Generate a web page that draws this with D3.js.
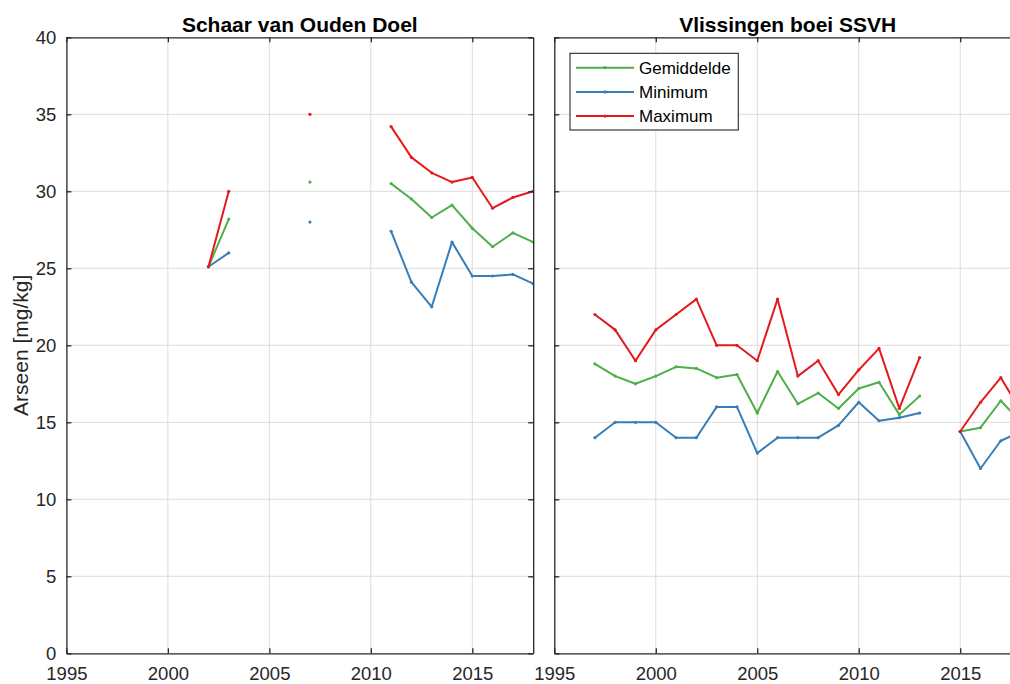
<!DOCTYPE html>
<html>
<head>
<meta charset="utf-8">
<script src="https://cdn.jsdelivr.net/npm/d3@7"></script>
<style>
  html, body { margin: 0; padding: 0; background: #fff; overflow: hidden; }
  svg { display: block; font-family: "Liberation Sans", Arial, Helvetica, sans-serif; }
</style>
</head>
<body>
<svg id="chart" width="1010" height="684"></svg>
<script>
// Arseen in sediment, yearly mean / min / max per station
const seriesNames = ["Gemiddelde", "Minimum", "Maximum"];
const seriesColors = ["#4daf4a", "#377eb8", "#e41a1c"];

// Schaar van Ouden Doel
const yearsOudenDoel = [2002, 2003, 2004, 2005, 2006, 2007, 2008, 2009, 2010,
                        2011, 2012, 2013, 2014, 2015, 2016, 2017, 2018];
const meanOudenDoel = [25.1, 28.2, null, null, null, 30.6, null, null, null,
                       30.5, 29.5, 28.3, 29.1, 27.6, 26.4, 27.3, 26.7];
const minOudenDoel  = [25.1, 26.0, null, null, null, 28.0, null, null, null,
                       27.4, 24.1, 22.5, 26.7, 24.5, 24.5, 24.6, 24.0];
const maxOudenDoel  = [25.1, 30.0, null, null, null, 35.0, null, null, null,
                       34.2, 32.2, 31.2, 30.6, 30.9, 28.9, 29.6, 30.0];

// Vlissingen boei SSVH
const yearsVlissingen = [1997, 1998, 1999, 2000, 2001, 2002, 2003, 2004, 2005, 2006, 2007,
                         2008, 2009, 2010, 2011, 2012, 2013, 2014, 2015, 2016, 2017, 2018];
const meanVlissingen = [18.8, 18.0, 17.5, 18.0, 18.6, 18.5, 17.9, 18.1, 15.6, 18.3, 16.2,
                        16.9, 15.9, 17.2, 17.6, 15.5, 16.7, null, 14.4, 14.65, 16.4, 15.0];
const minVlissingen  = [14.0, 15.0, 15.0, 15.0, 14.0, 14.0, 16.0, 16.0, 13.0, 14.0, 14.0,
                        14.0, 14.8, 16.3, 15.1, 15.3, 15.6, null, 14.4, 12.0, 13.8, 14.4];
const maxVlissingen  = [22.0, 21.0, 19.0, 21.0, 22.0, 23.0, 20.0, 20.0, 19.0, 23.0, 18.0,
                        19.0, 16.8, 18.4, 19.8, 15.9, 19.2, null, 14.4, 16.3, 17.9, 15.7];

const xTicks = [1995, 2000, 2005, 2010, 2015];
const yTicks = [0, 5, 10, 15, 20, 25, 30, 35, 40];
const xDomain = [1995, 2018];
const yDomain = [0, 40];

const panels = [
  { title: "Schaar van Ouden Doel", years: yearsOudenDoel,
    series: [meanOudenDoel, minOudenDoel, maxOudenDoel], left: 66.4, legend: false, yLabels: true },
  { title: "Vlissingen boei SSVH", years: yearsVlissingen,
    series: [meanVlissingen, minVlissingen, maxVlissingen], left: 554.3, legend: true, yLabels: false }
];

const plotW = 466.8, plotTop = 37.3, plotBottom = 653.3;
const axisColor = "#262626";
const gridColor = "#dcdcdc";

const svg = d3.select("#chart");

const y = d3.scaleLinear().domain(yDomain).range([plotBottom, plotTop]);

panels.forEach((p, pi) => {
  const x = d3.scaleLinear().domain(xDomain).range([p.left, p.left + plotW]);
  const g = svg.append("g");
  const clipId = "clip" + pi;
  svg.append("clipPath").attr("id", clipId)
    .append("rect").attr("x", p.left).attr("y", plotTop - 3)
    .attr("width", plotW).attr("height", plotBottom - plotTop + 6);

  // grid
  g.append("g").selectAll("line").data(xTicks.slice(1)).join("line")
    .attr("x1", d => x(d)).attr("x2", d => x(d))
    .attr("y1", plotTop).attr("y2", plotBottom)
    .attr("stroke", gridColor).attr("stroke-width", 1);
  g.append("g").selectAll("line").data(yTicks.slice(1, -1)).join("line")
    .attr("x1", p.left).attr("x2", p.left + plotW)
    .attr("y1", d => y(d)).attr("y2", d => y(d))
    .attr("stroke", gridColor).attr("stroke-width", 1);

  // series
  const data = p.series.map(vals => p.years.map((yr, i) => ({ yr, v: vals[i] })));
  const line = d3.line().defined(d => d.v !== null).x(d => x(d.yr)).y(d => y(d.v));
  const plot = g.append("g").attr("clip-path", `url(#${clipId})`);
  data.forEach((pts, si) => {
    plot.append("path").datum(pts)
      .attr("d", line).attr("fill", "none")
      .attr("stroke", seriesColors[si]).attr("stroke-width", 2)
      .attr("stroke-linejoin", "round");
    plot.append("g").selectAll("circle").data(pts.filter(d => d.v !== null)).join("circle")
      .attr("cx", d => x(d.yr)).attr("cy", d => y(d.v)).attr("r", 1.6)
      .attr("fill", seriesColors[si]);
  });

  // axes: box with inward ticks (bottom/left via d3.axis, mirrored top/right)
  const tickLen = 5;
  const axB = g.append("g").attr("transform", `translate(0,${plotBottom})`)
    .call(d3.axisBottom(x).tickValues(xTicks).tickSizeInner(-tickLen).tickSizeOuter(0).tickPadding(13.5).tickFormat(d3.format("d")));
  const axT = g.append("g").attr("transform", `translate(0,${plotTop})`)
    .call(d3.axisTop(x).tickValues(xTicks).tickSizeInner(-tickLen).tickSizeOuter(0).tickFormat(""));
  const axL = g.append("g").attr("transform", `translate(${p.left},0)`)
    .call(d3.axisLeft(y).tickValues(yTicks).tickSizeInner(-tickLen).tickSizeOuter(0).tickPadding(10)
      .tickFormat(p.yLabels ? d3.format("d") : ""));
  const axR = g.append("g").attr("transform", `translate(${p.left + plotW},0)`)
    .call(d3.axisRight(y).tickValues(yTicks).tickSizeInner(-tickLen).tickSizeOuter(0).tickFormat(""));

  [axB, axT, axL, axR].forEach(a => {
    a.select(".domain").attr("stroke", axisColor).attr("stroke-width", 1.3);
    a.selectAll(".tick line").attr("stroke", axisColor).attr("stroke-width", 1.3);
    a.selectAll(".tick text").attr("fill", axisColor)
      .style("font-size", "18.5px").style("font-family", "'Liberation Sans', Arial, sans-serif");
  });

  // title
  g.append("text")
    .attr("x", p.left + plotW / 2).attr("y", 31.5)
    .attr("text-anchor", "middle")
    .style("font-size", "21px").style("font-weight", "bold")
    .attr("fill", "#000").text(p.title);

  // legend
  if (p.legend) {
    const lx = 570, ly = 53.3, lw = 168.3, lh = 76.7;
    const lg = g.append("g");
    lg.append("rect").attr("x", lx).attr("y", ly).attr("width", lw).attr("height", lh)
      .attr("fill", "#fff").attr("stroke", axisColor).attr("stroke-width", 1.1);
    seriesNames.forEach((name, i) => {
      const ry = ly + 14.4 + i * 24.2;
      lg.append("line").attr("x1", lx + 6).attr("x2", lx + 64)
        .attr("y1", ry).attr("y2", ry)
        .attr("stroke", seriesColors[i]).attr("stroke-width", 2);
      lg.append("circle").attr("cx", lx + 35).attr("cy", ry).attr("r", 1.6).attr("fill", seriesColors[i]);
      lg.append("text").attr("x", lx + 69).attr("y", ry).attr("dy", "0.35em")
        .style("font-size", "17px").attr("fill", "#000").text(name);
    });
  }
});

// y-axis label
svg.append("text")
  .attr("transform", `translate(28,${(plotTop + plotBottom) / 2}) rotate(-90)`)
  .attr("text-anchor", "middle")
  .style("font-size", "21px").attr("fill", axisColor)
  .text("Arseen [mg/kg]");
</script>
</body>
</html>
